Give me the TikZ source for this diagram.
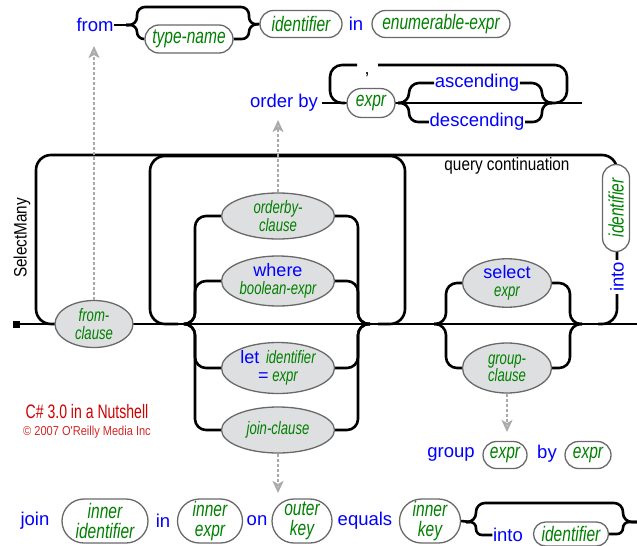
\documentclass[tikz,border=0pt]{standalone}
\usepackage{fontspec}
\setmainfont{Liberation Sans}
\newfontfamily\kwf{Liberation Sans}
\newfontfamily\ntf{Liberation Sans}[FakeStretch=0.74]
\newfontfamily\elf{Liberation Sans}[FakeStretch=0.73]
\newfontfamily\lbf{Liberation Sans}[FakeStretch=0.85]
\newfontfamily\redf{Liberation Sans}[FakeStretch=0.72]
\usetikzlibrary{shapes.geometric,shapes.misc,arrows.meta,backgrounds}
\definecolor{kwblue}{RGB}{0,0,255}
\definecolor{ntgreen}{RGB}{0,128,0}
\definecolor{boxgray}{RGB}{105,105,105}
\definecolor{ellfill}{RGB}{222,223,224}
\definecolor{redtxt}{RGB}{204,0,0}
\definecolor{arrgray}{RGB}{170,170,170}
\newcommand\KW[1]{{\color{kwblue}\kwf\upshape #1}}
\tikzset{
  rail/.style={line width=2.6pt, black, rounded corners=12pt},
  ntbox/.style={rounded rectangle, draw=boxgray, line width=1.3pt, fill=white, inner sep=0pt,
    align=center, text=ntgreen, font=\ntf\itshape\fontsize{21}{20}\selectfont},
  clause/.style={ellipse, draw=boxgray, line width=1.3pt, fill=ellfill, inner sep=0pt,
    align=center, text=ntgreen, font=\elf\itshape\fontsize{18}{17.5}\selectfont},
  kwtext/.style={inner sep=0.5pt, text=kwblue, font=\kwf\fontsize{18.5}{18}\selectfont},
  lbl/.style={inner sep=0pt, text=black, font=\lbf\fontsize{18}{18}\selectfont},
  redA/.style={inner sep=0pt, text=redtxt, font=\redf\fontsize{19.5}{20}\selectfont},
  redB/.style={inner sep=0pt, text=redtxt!85!white, font=\lbf\fontsize{13}{13}\selectfont},
  dasharrow/.style={draw=arrgray, line width=1.8pt, dash pattern=on 3pt off 2pt,
    -{Stealth[length=12pt,width=11pt,inset=3pt,fill=arrgray!70]}}
}
\begin{document}
\begin{tikzpicture}[x=1pt,y=-1pt]
\useasboundingbox (0,0) rectangle (637,546);

% ---------- from row ----------
\node[kwtext] (fromkw) at (95,25) {from};
\node[ntbox, minimum width=88pt, minimum height=28pt] (typename) at (189,39) {type-name};
\node[ntbox, minimum width=82pt, minimum height=27pt] (ident1) at (301,24) {identifier};
\node[kwtext] (inkw) at (356,24) {in};
\node[ntbox, minimum width=138pt, minimum height=27pt] (enumexpr) at (441,24) {enumerable-expr};

% ---------- order by row ----------
\node[kwtext] (orderkw) at (284,103) {order by};
\node[ntbox, minimum width=48pt, minimum height=29pt] (expr1) at (371,103) {expr};
\node[kwtext] (asc) at (477,83) {ascending};
\node[kwtext] (desc) at (477,122) {descending};
\node[inner sep=0pt, font=\kwf\fontsize{18}{18}\selectfont] (comma) at (367,75) {,};
\coordinate (ordstart) at (322,103);
\coordinate (ordend) at (582,103);

% ---------- labels ----------
\node[lbl] (qc) at (507,166) {query continuation};
\node[lbl, rotate=90] (selectmany) at (22,238) {SelectMany};
\node[ntbox, rotate=90, minimum width=87pt, minimum height=27pt] (ident2) at (616,208) {identifier};
\node[kwtext, rotate=90, fill=white, inner sep=2pt] (into1) at (617,277) {into};

% ---------- main line nodes ----------
\node[fill=black, minimum size=7pt, inner sep=0pt] (start) at (16,324) {};
\coordinate (endmain) at (637,324);
\node[clause, minimum width=78pt, minimum height=47pt] (fromc) at (94,324) {from-\\clause};
\node[clause, minimum width=113pt, minimum height=46pt] (orderby) at (278,216) {orderby-\\clause};
\node[clause, minimum width=113pt, minimum height=50pt] (where) at (278,281) {\KW{where}\\boolean-expr};
\node[clause, minimum width=113pt, minimum height=51pt] (let) at (278,368) {\KW{let}\, identifier\\\KW{=} expr};
\node[clause, minimum width=113pt, minimum height=46pt] (joinc) at (278,430) {join-clause};
\node[clause, minimum width=89pt, minimum height=47pt] (select) at (507,283) {\KW{select}\\expr};
\node[clause, minimum width=89pt, minimum height=50pt] (group) at (507,368) {group-\\clause};

% ---------- red notice ----------
\node[redA] (title) at (87,412) {C\# 3.0 in a Nutshell};
\node[redB] (copy) at (87,432) {© 2007 O'Reilly Media Inc};

% ---------- group row ----------
\node[kwtext] (groupkw) at (451,454) {group};
\node[ntbox, minimum width=44pt, minimum height=27pt] (gexpr1) at (505,455) {expr};
\node[kwtext] (bykw) at (547,454) {by};
\node[ntbox, minimum width=46pt, minimum height=27pt] (gexpr2) at (588,455) {expr};

% ---------- join row ----------
\node[kwtext] (joinkw) at (35,521) {join};
\node[ntbox, minimum width=86pt, minimum height=44pt] (innerid) at (105,521) {inner\\identifier};
\node[kwtext] (in2) at (163,521) {in};
\node[ntbox, minimum width=65pt, minimum height=44pt] (innerexpr) at (210,521) {inner\\expr};
\node[kwtext] (onkw) at (257,521) {on};
\node[ntbox, minimum width=60pt, minimum height=44pt] (outerkey) at (302,521) {outer\\key};
\node[kwtext] (equalskw) at (365,521) {equals};
\node[ntbox, minimum width=61pt, minimum height=44pt] (innerkey) at (430,521) {inner\\key};
\node[kwtext] (into2) at (508,535) {into};
\node[ntbox, minimum width=75pt, minimum height=24pt] (ident3) at (571,534) {identifier};

% ---------- rails ----------
\begin{scope}[on background layer]
  % from row
  \draw[rail] (fromkw.east) -- (128,25);
  \draw[rail, rounded corners=8pt] (126,25) -| (137,7) -| (249,25) -- (ident1.west);
  \draw[rail, rounded corners=7pt] (126,25) -| (137,39) -- (typename.west);
  \draw[rail, rounded corners=7pt] (typename.east) -| (249,25) -- (ident1.west);
  % order by row
  \draw[rail] (ordstart) -- (ordend);
  \draw[rail] (548,103) -| (567,65) -- (378,65);
  \draw[rail] (357,65) -| (330,103) -- (345,103);
  \draw[rail, rounded corners=10pt] (398,103) -| (409,83) -- (asc.west);
  \draw[rail, rounded corners=10pt] (asc.east) -| (542,103) -- (552,103);
  \draw[rail, rounded corners=9pt] (398,103) -| (409,122) -- (desc.west);
  \draw[rail, rounded corners=9pt] (desc.east) -| (542,103) -- (552,103);
  % main line
  \draw[rail] (start) -- (endmain);
  % outer loop (query continuation)
  \draw[rail, rounded corners=15pt] (60,324) -| (36,155) -| (617,324) -- (598,324);
  % inner loop
  \draw[rail, rounded corners=15pt] (178,324) -| (150,156) -| (405,324) -- (378,324);
  % body clauses
  \draw[rail, rounded corners=11pt] (184,324) -| (195,216) -- (orderby.west);
  \draw[rail, rounded corners=11pt] (184,324) -| (195,281) -- (where.west);
  \draw[rail, rounded corners=11pt] (184,324) -| (195,368) -- (let.west);
  \draw[rail, rounded corners=11pt] (184,324) -| (195,430) -- (joinc.west);
  \draw[rail, rounded corners=11pt] (orderby.east) -| (358,324) -- (370,324);
  \draw[rail, rounded corners=11pt] (where.east) -| (358,324) -- (370,324);
  \draw[rail, rounded corners=11pt] (let.east) -| (358,324) -- (370,324);
  \draw[rail, rounded corners=11pt] (joinc.east) -| (358,324) -- (370,324);
  % select / group
  \draw[rail, rounded corners=11pt] (434,324) -| (446,283) -- (select.west);
  \draw[rail, rounded corners=11pt] (434,324) -| (446,368) -- (group.west);
  \draw[rail, rounded corners=11pt] (select.east) -| (570,324) -- (582,324);
  \draw[rail, rounded corners=11pt] (group.east) -| (570,324) -- (582,324);
  % join row
  \draw[rail] (innerkey.east) -- (470,522);
  \draw[rail, rounded corners=9pt] (466,522) -| (476,503) -| (623,522) -- (637,522);
  \draw[rail, rounded corners=6pt] (466,522) -| (476,535) -- (into2.west);
  \draw[rail, rounded corners=6pt] (ident3.east) -| (623,522) -- (637,522);
\end{scope}

% ---------- dashed arrows ----------
\coordinate (fromtip) at (94,46);
\coordinate (obtip) at (278,120);
\coordinate (grtip) at (507,432);
\coordinate (jtip) at (278,493);
\draw[dasharrow] (fromc.north) -- (fromtip);
\draw[dasharrow] (orderby.north) -- (obtip);
\draw[dasharrow] (group.south) -- (grtip);
\draw[dasharrow] (joinc.south) -- (jtip);
\end{tikzpicture}
\end{document}
